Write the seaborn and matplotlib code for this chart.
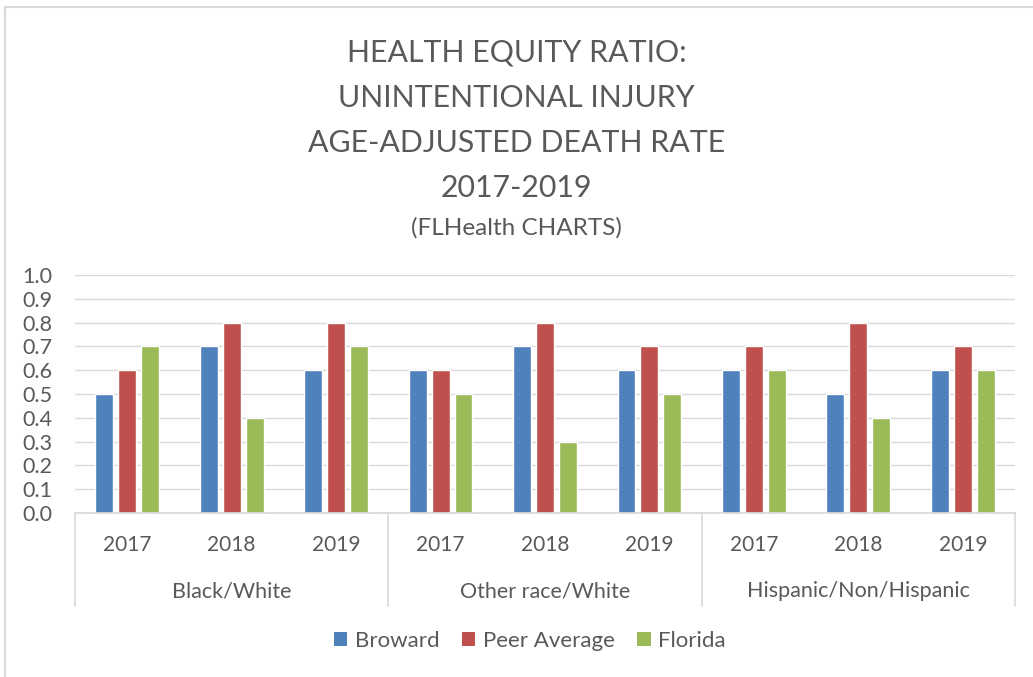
import matplotlib
matplotlib.use("Agg")
import matplotlib.pyplot as plt
import matplotlib.transforms as mtransforms
from matplotlib.patches import Patch
import seaborn as sns
import pandas as pd

# Data
groups = ["Black/White", "Other race/White", "Hispanic/Non/Hispanic"]
years = ["2017", "2018", "2019"]
series = ["Broward", "Peer Average", "Florida"]
broward = [0.5, 0.7, 0.6, 0.6, 0.7, 0.6, 0.6, 0.5, 0.6]
peer_average = [0.6, 0.8, 0.8, 0.6, 0.8, 0.7, 0.7, 0.8, 0.7]
florida = [0.7, 0.4, 0.7, 0.5, 0.3, 0.5, 0.6, 0.4, 0.6]
colors = ["#4F81BD", "#C0504D", "#9BBB59"]
title_lines = ["HEALTH EQUITY RATIO:", "UNINTENTIONAL INJURY",
               "AGE-ADJUSTED DEATH RATE", "2017-2019"]
subtitle = "(FLHealth CHARTS)"

categories = [f"{g}|{y}" for g in groups for y in years]
rows = []
for name, vals in zip(series, [broward, peer_average, florida]):
    for cat, v in zip(categories, vals):
        rows.append({"category": cat, "series": name, "value": v})
df = pd.DataFrame(rows)

sns.set_theme(style="white")
plt.rcParams["font.family"] = ["Lato", "DejaVu Sans"]
text_color = "#595959"
grid_color = "#D9D9D9"

fig = plt.figure(figsize=(10.33, 6.77), dpi=100)
ax = fig.add_axes([75 / 1033, 1 - 513 / 677, 940 / 1033, 238 / 677])

sns.barplot(data=df, x="category", y="value", hue="series", order=categories,
            hue_order=series, palette=colors, width=0.66, gap=0.22,
            saturation=1, ax=ax, legend=False)

ax.set_ylim(0, 1.0)
ax.set_xlim(-0.5, len(categories) - 0.5)
ax.set_yticks([i / 10 for i in range(11)])
ax.set_yticklabels([f"{i / 10:.1f}" for i in range(11)], fontsize=15.5, color=text_color)
ax.yaxis.grid(True, color=grid_color, lw=1)
ax.set_axisbelow(True)
for s in ["top", "right", "left"]:
    ax.spines[s].set_visible(False)
ax.spines["bottom"].set_color(grid_color)
ax.tick_params(axis="y", length=0, pad=16)
ax.set_xticks(range(len(categories)))
ax.set_xticklabels([y for g in groups for y in years], fontsize=15, color=text_color)
ax.tick_params(axis="x", length=0, pad=16)
ax.set_xlabel("")
ax.set_ylabel("")

# Multi-level category axis: group separators and group labels
trans = mtransforms.blended_transform_factory(ax.transData, ax.transAxes)
for xpos in [-0.5, 2.5, 5.5, 8.5]:
    ax.plot([xpos, xpos], [0, -93 / 238], transform=trans, color=grid_color,
            lw=1.2, clip_on=False)
for i, g in enumerate(groups):
    ax.text(3 * i + 1, -78 / 238, g, transform=trans, ha="center", va="center",
            fontsize=15.5, color=text_color)

# Title
title_y = [52, 98, 143, 188]
for line, yy in zip(title_lines, title_y):
    fig.text(0.5, 1 - yy / 677, line, ha="center", va="center", fontsize=21.8,
             color=text_color)
fig.text(0.5, 1 - 228 / 677, subtitle, ha="center", va="center", fontsize=17.5,
         color=text_color)

# Legend
handles = [Patch(facecolor=c, edgecolor="none") for c in colors]
fig.legend(handles, series, loc="center", bbox_to_anchor=(530 / 1033, 1 - 641 / 677),
           ncol=3, frameon=False, fontsize=16, handlelength=0.6,
           handleheight=0.6, handletextpad=0.35, columnspacing=1.0,
           labelcolor=text_color)

# Chart area border
fig.add_artist(plt.Line2D([4.5 / 1033, 1], [1 - 6.5 / 677] * 2, color=grid_color,
                          lw=1.5, transform=fig.transFigure))
fig.add_artist(plt.Line2D([4.5 / 1033] * 2, [0, 1 - 6.5 / 677], color=grid_color,
                          lw=1.5, transform=fig.transFigure))

fig.savefig("out.png", dpi=100)
